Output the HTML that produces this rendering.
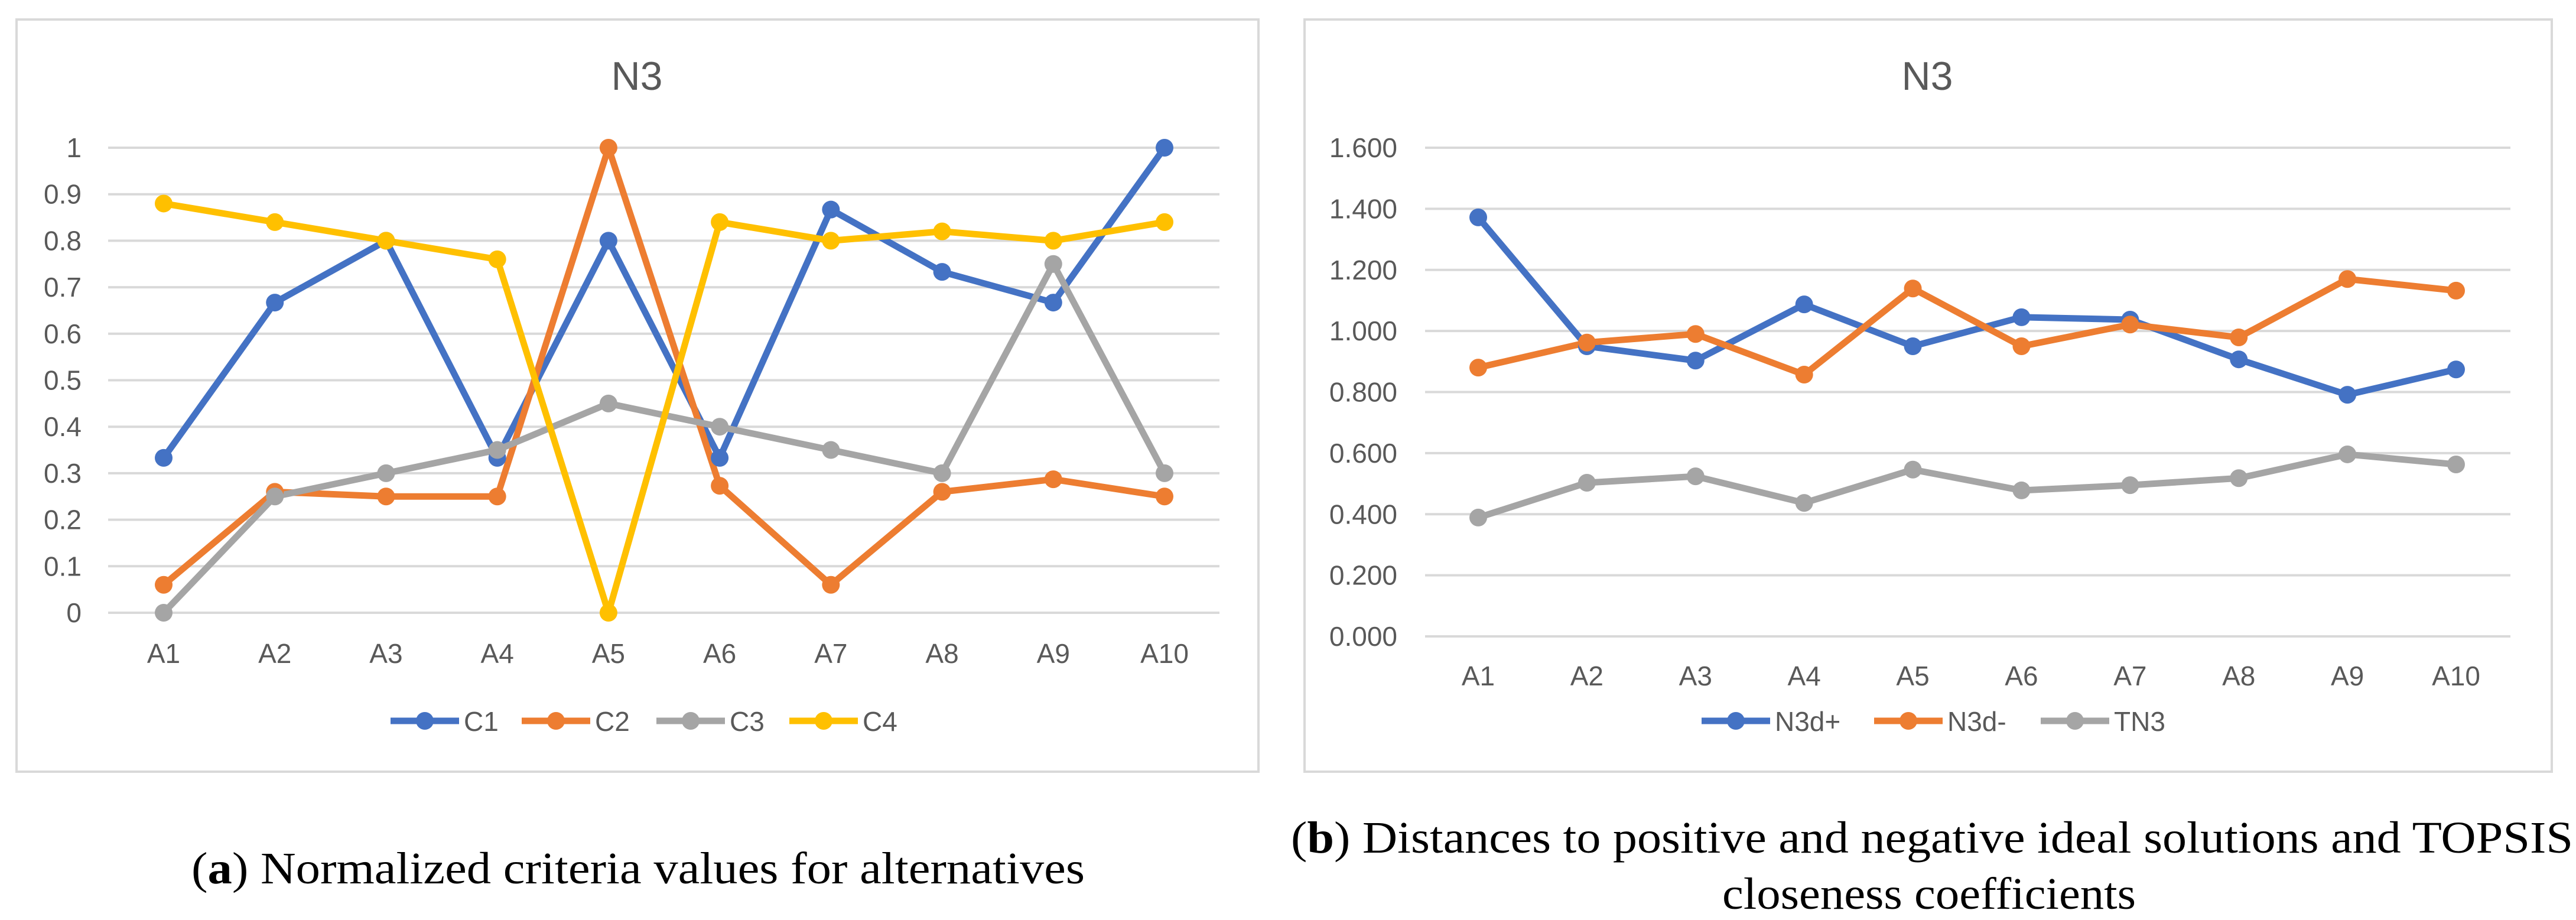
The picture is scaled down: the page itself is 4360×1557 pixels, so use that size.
<!DOCTYPE html>
<html><head><meta charset="utf-8"><style>
html,body{margin:0;padding:0;background:#fff;}
svg{display:block;}
text{font-family:"Liberation Sans",sans-serif;fill:#595959;}
.cap{font-family:"Liberation Serif",serif;fill:#000;}
</style></head><body>
<svg id="svg" width="4360" height="1557" viewBox="0 0 4360 1557" xmlns="http://www.w3.org/2000/svg">
<rect x="28" y="33" width="2102" height="1273" fill="#fff" stroke="#d9d9d9" stroke-width="4"/>
<rect x="2208" y="33" width="2111" height="1273" fill="#fff" stroke="#d9d9d9" stroke-width="4"/>
<text x="1078" y="152" font-size="68" text-anchor="middle">N3</text>
<text x="3262" y="152" font-size="68" text-anchor="middle">N3</text>
<g id="ga"></g><g id="gb"></g>
<text class="cap" x="1080" y="1495" font-size="76" text-anchor="middle" textLength="1512" lengthAdjust="spacingAndGlyphs">(<tspan font-weight="bold">a</tspan>) Normalized criteria values for alternatives</text>
<text class="cap" x="3270" y="1443" font-size="76" text-anchor="middle" textLength="2170" lengthAdjust="spacingAndGlyphs">(<tspan font-weight="bold">b</tspan>) Distances to positive and negative ideal solutions and TOPSIS</text>
<text class="cap" x="3265" y="1538" font-size="76" text-anchor="middle" textLength="700" lengthAdjust="spacingAndGlyphs">closeness coefficients</text>
</svg>
<script>
const categories = ["A1","A2","A3","A4","A5","A6","A7","A8","A9","A10"];
const aTicks = ["0","0.1","0.2","0.3","0.4","0.5","0.6","0.7","0.8","0.9","1"];
const aNames = ["C1","C2","C3","C4"];
const c1 = [0.333,0.667,0.8,0.333,0.8,0.333,0.867,0.733,0.667,1];
const c2 = [0.06,0.26,0.25,0.25,1,0.273,0.06,0.26,0.287,0.25];
const c3 = [0,0.25,0.3,0.35,0.45,0.4,0.35,0.3,0.75,0.3];
const c4 = [0.88,0.84,0.8,0.76,0,0.84,0.8,0.82,0.8,0.84];
const bTicks = ["0.000","0.200","0.400","0.600","0.800","1.000","1.200","1.400","1.600"];
const bNames = ["N3d+","N3d-","TN3"];
const dPlus = [1.372,0.95,0.903,1.087,0.95,1.045,1.037,0.907,0.791,0.874];
const dMinus = [0.88,0.962,0.99,0.857,1.139,0.95,1.021,0.979,1.17,1.132];
const tn3 = [0.389,0.503,0.524,0.437,0.546,0.478,0.495,0.518,0.596,0.563];

const NS="http://www.w3.org/2000/svg";
function mk(p,tag,at){const e=document.createElementNS(NS,tag);for(const k in at)e.setAttribute(k,at[k]);p.appendChild(e);return e;}
function chart(g,cfg){
  const x=i=>cfg.x0+i*(cfg.x1-cfg.x0)/(categories.length-1);
  const y=v=>cfg.yb-(v-cfg.min)/(cfg.max-cfg.min)*(cfg.yb-cfg.yt);
  cfg.ticks.forEach((t,i)=>{
    const v=cfg.min+i*(cfg.max-cfg.min)/(cfg.ticks.length-1);
    const l=mk(g,"line",{x1:cfg.gx0,x2:cfg.gx1,y1:y(v),y2:y(v),stroke:"#d9d9d9","stroke-width":4});
    
    
    const tx=mk(g,"text",{x:cfg.tx,y:y(v)+16,"font-size":46,"text-anchor":"end"});tx.textContent=t;
    
    
  });
  categories.forEach((c,i)=>{
    const tx=mk(g,"text",{x:x(i),y:cfg.xly,"font-size":46,"text-anchor":"middle"});tx.textContent=c;
    
    
  });
  cfg.series.forEach((s,si)=>{
    const pl=mk(g,"polyline",{points:s.map((v,i)=>x(i)+","+y(v)).join(" "),fill:"none",stroke:cfg.colors[si],"stroke-width":11,"stroke-linejoin":"round"});
    
    
  });
  cfg.series.forEach((s,si)=>{
    s.forEach((v,i)=>{
      const c=mk(g,"circle",{cx:x(i),cy:y(v),r:15,fill:cfg.colors[si]});
      
      
    });
  });
  cfg.names.forEach((n,si)=>{
    const lx=cfg.legX[si];
    const l=mk(g,"line",{x1:lx,x2:lx+116,y1:cfg.legY,y2:cfg.legY,stroke:cfg.colors[si],"stroke-width":11});
    
    
    const c=mk(g,"circle",{cx:lx+58,cy:cfg.legY,r:15,fill:cfg.colors[si]});
    
    
    const t=mk(g,"text",{x:lx+124,y:cfg.legY+17,"font-size":46});t.textContent=n;
    
    
  });
}
chart(document.getElementById("ga"),{x0:277,x1:1971,gx0:183,gx1:2064,yt:250,yb:1037,min:0,max:1,ticks:aTicks,tx:138,xly:1122,
  series:[c1,c2,c3,c4],names:aNames,colors:["#4472c4","#ed7d31","#a5a5a5","#ffc000"],legY:1220,legX:[661,883,1111,1336]});
chart(document.getElementById("gb"),{x0:2502,x1:4157,gx0:2412,gx1:4249,yt:250,yb:1077,min:0,max:1.6,ticks:bTicks,tx:2365,xly:1160,
  series:[dPlus,dMinus,tn3],names:bNames,colors:["#4472c4","#ed7d31","#a5a5a5"],legY:1220,legX:[2880,3172,3454]});
</script>
</body></html>
